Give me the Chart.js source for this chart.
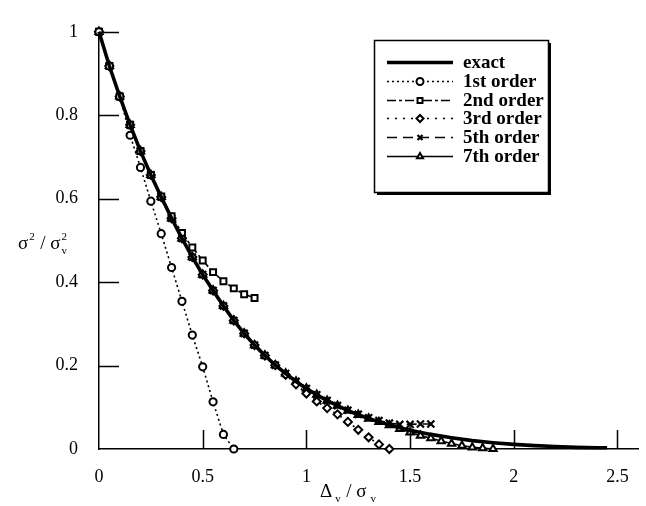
<!DOCTYPE html>
<html>
<head>
<meta charset="utf-8">
<script src="https://cdn.jsdelivr.net/npm/chart.js@4.4.1/dist/chart.umd.min.js"></script>
<style>
  html, body { margin: 0; padding: 0; background: #fff; }
  canvas { display: block; }
</style>
</head>
<body>
<canvas id="chart" width="646" height="506"></canvas>
<script>
// values
const exactX = [0, 0.05, 0.1, 0.15, 0.2, 0.25, 0.3, 0.35, 0.4, 0.45, 0.5, 0.55, 0.6, 0.65, 0.7, 0.75, 0.8, 0.85, 0.9, 0.95,
  1.0, 1.05, 1.1, 1.15, 1.2, 1.25, 1.3, 1.35, 1.4, 1.45, 1.5, 1.6, 1.7, 1.8, 1.9, 2.0, 2.1, 2.2, 2.3, 2.4, 2.45];
const exactY = [1, 0.918, 0.845, 0.777, 0.714, 0.657, 0.604, 0.553, 0.505, 0.46, 0.418, 0.38, 0.343, 0.308, 0.277, 0.249, 0.224, 0.201, 0.181, 0.162,
  0.145, 0.13, 0.116, 0.104, 0.092, 0.082, 0.073, 0.065, 0.058, 0.051, 0.045, 0.035, 0.027, 0.02, 0.015, 0.011, 0.008, 0.006, 0.004, 0.003, 0.003];

const firstX = [0, 0.05, 0.1, 0.15, 0.2, 0.25, 0.3, 0.35, 0.4, 0.45, 0.5, 0.55, 0.6, 0.65];
const firstY = [1, 0.918, 0.845, 0.752, 0.675, 0.594, 0.516, 0.435, 0.354, 0.273, 0.197, 0.113, 0.035, 0];

const secondX = [0, 0.05, 0.1, 0.15, 0.2, 0.25, 0.3, 0.35, 0.4, 0.45, 0.5, 0.55, 0.6, 0.65, 0.7, 0.75];
const secondY = [1, 0.918, 0.845, 0.777, 0.714, 0.657, 0.605, 0.558, 0.518, 0.483, 0.452, 0.424, 0.402, 0.385, 0.371, 0.362];

const thirdX = [0, 0.05, 0.1, 0.15, 0.2, 0.25, 0.3, 0.35, 0.4, 0.45, 0.5, 0.55, 0.6, 0.65, 0.7, 0.75, 0.8, 0.85, 0.9, 0.95,
  1.0, 1.05, 1.1, 1.15, 1.2, 1.25, 1.3, 1.35, 1.4];
const thirdY = [1, 0.918, 0.845, 0.777, 0.714, 0.657, 0.604, 0.553, 0.505, 0.46, 0.418, 0.38, 0.343, 0.308, 0.277, 0.249, 0.224, 0.201, 0.178, 0.155,
  0.133, 0.114, 0.098, 0.083, 0.065, 0.046, 0.028, 0.011, 0];

const fifthX = [0, 0.05, 0.1, 0.15, 0.2, 0.25, 0.3, 0.35, 0.4, 0.45, 0.5, 0.55, 0.6, 0.65, 0.7, 0.75, 0.8, 0.85, 0.9, 0.95,
  1.0, 1.05, 1.1, 1.15, 1.2, 1.25, 1.3, 1.35, 1.4, 1.45, 1.5, 1.55, 1.6];
const fifthY = [1, 0.918, 0.845, 0.777, 0.714, 0.657, 0.604, 0.553, 0.505, 0.46, 0.418, 0.38, 0.343, 0.308, 0.277, 0.249, 0.224, 0.201, 0.181, 0.162,
  0.145, 0.13, 0.116, 0.104, 0.093, 0.083, 0.075, 0.068, 0.062, 0.059, 0.059, 0.06, 0.06];

const seventhX = [0, 0.05, 0.1, 0.15, 0.2, 0.25, 0.3, 0.35, 0.4, 0.45, 0.5, 0.55, 0.6, 0.65, 0.7, 0.75, 0.8, 0.85, 0.9, 0.95,
  1.0, 1.05, 1.1, 1.15, 1.2, 1.25, 1.3, 1.35, 1.4, 1.45, 1.5, 1.55, 1.6, 1.65, 1.7, 1.75, 1.8, 1.85, 1.9];
const seventhY = [1, 0.918, 0.845, 0.777, 0.714, 0.657, 0.604, 0.553, 0.505, 0.46, 0.418, 0.38, 0.343, 0.308, 0.277, 0.249, 0.224, 0.201, 0.181, 0.162,
  0.145, 0.13, 0.116, 0.104, 0.092, 0.082, 0.073, 0.065, 0.057, 0.048, 0.04, 0.032, 0.026, 0.019, 0.013, 0.008, 0.004, 0.002, 0];

const xTicks = [0, 0.5, 1, 1.5, 2, 2.5];
const yTicks = [0, 0.2, 0.4, 0.6, 0.8, 1];
const seriesNames = ['exact', '1st order', '2nd order', '3rd order', '5th order', '7th order'];

const serif = "'Liberation Serif', 'DejaVu Serif', serif";

function pts(xs, ys) {
  return xs.map((x, i) => ({ x: x, y: ys[i] }));
}

function series(label, xs, ys, opts) {
  return Object.assign({
    label: label,
    data: pts(xs, ys),
    borderColor: '#000',
    backgroundColor: '#fff',
    pointBackgroundColor: '#fff',
    pointBorderColor: '#000',
    pointBorderWidth: 2,
    pointRadius: 4,
    borderWidth: 1.6,
    tension: 0,
    order: 1
  }, opts);
}

// tick marks point into the plot, axis titles and legend are drawn by hand
const decorations = {
  id: 'decorations',
  afterDraw(chart) {
    const ctx = chart.ctx;
    const x = chart.scales.x, y = chart.scales.y;
    const area = chart.chartArea;
    ctx.save();
    ctx.strokeStyle = '#000';
    ctx.lineWidth = 1.5;
    ctx.beginPath();
    yTicks.forEach(v => {
      if (v === 0) return;
      const py = Math.round(y.getPixelForValue(v)) + 0.5;
      ctx.moveTo(area.left, py);
      ctx.lineTo(area.left + 20, py);
    });
    xTicks.forEach(v => {
      if (v === 0) return;
      const px = Math.round(x.getPixelForValue(v)) + 0.5;
      ctx.moveTo(px, area.bottom);
      ctx.lineTo(px, area.bottom - 19);
    });
    ctx.stroke();

    // y title: sigma^2 / sigma_v^2
    ctx.fillStyle = '#000';
    ctx.textBaseline = 'alphabetic';
    ctx.textAlign = 'left';
    let tx = 18, ty = 249;
    ctx.font = '19px ' + serif;
    ctx.fillText('σ', tx, ty); tx += ctx.measureText('σ').width;
    ctx.font = '11px ' + serif;
    ctx.fillText('2', tx + 1, ty - 9); tx += 12;
    ctx.font = '19px ' + serif;
    ctx.fillText('/ σ', tx, ty); tx += ctx.measureText('/ σ').width;
    ctx.font = '11px ' + serif;
    ctx.fillText('2', tx + 1, ty - 9);
    ctx.fillText('v', tx + 1, ty + 5);

    // x title: Delta_v / sigma_v
    tx = 320; ty = 497;
    ctx.font = '19px ' + serif;
    ctx.fillText('Δ', tx, ty); tx += ctx.measureText('Δ').width;
    ctx.font = '11px ' + serif;
    ctx.fillText('v', tx + 3, ty + 5); tx += 14;
    ctx.font = '19px ' + serif;
    ctx.fillText('/ σ', tx, ty); tx += ctx.measureText('/ σ').width;
    ctx.font = '11px ' + serif;
    ctx.fillText('v', tx + 4, ty + 5);

    // legend box with drop shadow
    const bx = 374, by = 40, bw = 174, bh = 152;
    ctx.fillStyle = '#000';
    ctx.fillRect(bx + 3, by + 3, bw, bh);
    ctx.fillStyle = '#fff';
    ctx.fillRect(bx, by, bw, bh);
    ctx.lineWidth = 1.5;
    ctx.strokeRect(bx + 0.5, by + 0.5, bw, bh);

    chart.data.datasets.forEach((ds, i) => {
      const ry = Math.round(62 + i * 18.8) + 0.5;
      ctx.strokeStyle = '#000';
      ctx.lineWidth = ds.borderWidth;
      ctx.setLineDash(ds.borderDash || []);
      ctx.beginPath();
      ctx.moveTo(387, ry);
      ctx.lineTo(453, ry);
      ctx.stroke();
      ctx.setLineDash([]);
      if (ds.pointRadius > 0) {
        ctx.fillStyle = '#fff';
        ctx.lineWidth = ds.pointBorderWidth;
        Chart.helpers.drawPoint(ctx, {
          pointStyle: ds.pointStyle, radius: 3.5, rotation: 0, borderWidth: ds.pointBorderWidth
        }, 420, ry);
      }
      ctx.fillStyle = '#000';
      ctx.font = 'bold 19px ' + serif;
      ctx.textBaseline = 'middle';
      ctx.fillText(ds.label, 463, ry + 1);
    });
    ctx.restore();
  }
};

const plainLabel = v => String(v);

new Chart(document.getElementById('chart'), {
  type: 'line',
  data: {
    datasets: [
      series(seriesNames[0], exactX, exactY, { borderWidth: 3.6, pointRadius: 0, order: 0 }),
      series(seriesNames[1], firstX, firstY, { borderDash: [2, 3], pointStyle: 'circle', pointRadius: 3.6 }),
      series(seriesNames[2], secondX, secondY, { borderDash: [9, 3, 3, 3], pointStyle: 'rect', pointRadius: 4.2 }),
      series(seriesNames[3], thirdX, thirdY, { borderDash: [2, 6], pointStyle: 'rectRot', pointRadius: 4 }),
      series(seriesNames[4], fifthX, fifthY, { borderDash: [10, 6], pointStyle: 'crossRot', pointRadius: 5, pointBorderWidth: 2.2 }),
      series(seriesNames[5], seventhX, seventhY, { pointStyle: 'triangle', pointRadius: 4.2 })
    ]
  },
  options: {
    responsive: false,
    animation: false,
    devicePixelRatio: 1,
    layout: { padding: { left: 0, top: 17, right: 6, bottom: 0 } },
    plugins: { legend: { display: false }, tooltip: { enabled: false } },
    elements: { line: { borderJoinStyle: 'round' } },
    clip: false,
    scales: {
      x: {
        type: 'linear',
        min: 0,
        max: 2.6,
        afterBuildTicks: s => { s.ticks = xTicks.map(v => ({ value: v })); },
        afterFit: s => { s.height = 57; },
        grid: { display: true, drawOnChartArea: false, drawTicks: false },
        border: { color: '#000', width: 1.5 },
        ticks: { color: '#000', padding: 17, font: { family: serif, size: 18 }, callback: plainLabel }
      },
      y: {
        type: 'linear',
        min: 0,
        max: 1,
        afterBuildTicks: s => { s.ticks = yTicks.map(v => ({ value: v })); },
        afterFit: s => { s.width = 99; },
        grid: { display: true, drawOnChartArea: false, drawTicks: false },
        border: { color: '#000', width: 1.5 },
        ticks: { color: '#000', padding: 21, font: { family: serif, size: 18 }, callback: plainLabel }
      }
    }
  },
  plugins: [decorations]
});
</script>
</body>
</html>
